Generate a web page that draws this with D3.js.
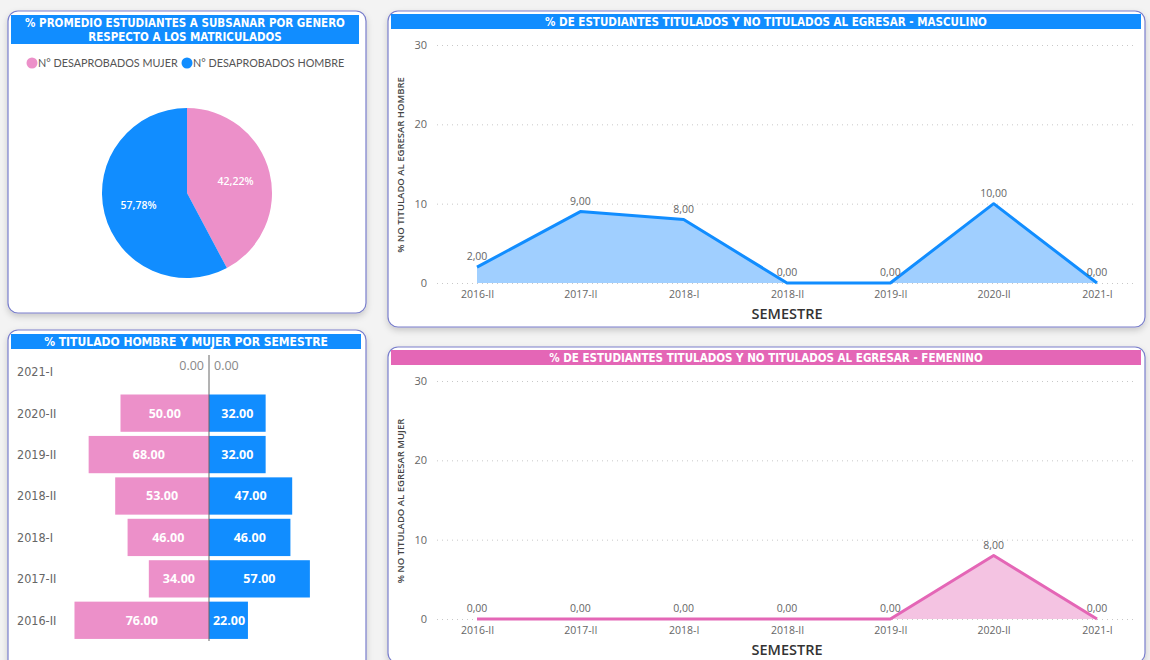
<!DOCTYPE html>
<html>
<head>
<meta charset="utf-8">
<script src="https://cdn.jsdelivr.net/npm/d3@7"></script>
<style>
  body { margin: 0; background: #f3f3f3; }
  svg { display: block; }
</style>
</head>
<body>
<svg id="dash" width="1150" height="660"></svg>
<script>
// ---- data ----
var pieLabels = ["N° DESAPROBADOS MUJER", "N° DESAPROBADOS HOMBRE"];
var pieValues = [42.22, 57.78];

var barSemestres = ["2021-I", "2020-II", "2019-II", "2018-II", "2018-I", "2017-II", "2016-II"];
var barMujer = [0, 50, 68, 53, 46, 34, 76];
var barHombre = [0, 32, 32, 47, 46, 57, 22];

var lineSemestres = ["2016-II", "2017-II", "2018-I", "2018-II", "2019-II", "2020-II", "2021-I"];
var noTitHombre = [2, 9, 8, 0, 0, 10, 0];
var noTitMujer = [0, 0, 0, 0, 0, 8, 0];
var yTicks = [0, 10, 20, 30];

var BLUE = "#118dff", PINK = "#ec90c9", PINKLINE = "#e466b6";
var titleFont = "'DejaVu Sans Condensed', 'DejaVu Sans', sans-serif";
var bodyFont = "'Open Sans', 'Noto Sans', sans-serif";

var svg = d3.select("#dash");
var defs = svg.append("defs");
var f = defs.append("filter").attr("id", "shadow").attr("x", "-5%").attr("y", "-5%").attr("width", "110%").attr("height", "115%");
f.append("feDropShadow").attr("dx", 0).attr("dy", 3).attr("stdDeviation", 3).attr("flood-color", "#000").attr("flood-opacity", 0.18);

function panel(x, y, w, h) {
    svg.append("rect").attr("x", x).attr("y", y).attr("width", w).attr("height", h)
        .attr("rx", 10).attr("fill", "#fff").attr("stroke", "#7a7fcc").attr("stroke-width", 1.2)
        .attr("filter", "url(#shadow)");
}
function titleBar(x, y, w, h, color, lines, size) {
    svg.append("rect").attr("x", x).attr("y", y).attr("width", w).attr("height", h).attr("fill", color);
    var t = svg.append("text").attr("x", x + w / 2).attr("text-anchor", "middle")
        .attr("fill", "#fff").style("font-family", titleFont).style("font-weight", "bold").style("font-size", (size || 11.5) + "px");
    lines.forEach(function (l, i) {
        t.append("tspan").attr("x", x + w / 2).attr("y", y + 11.5 + i * 14).text(l);
    });
}

// ---- panel 1: pie ----
panel(8, 11, 358, 302);
titleBar(11, 15, 348, 29, BLUE, ["% PROMEDIO ESTUDIANTES A SUBSANAR POR GENERO", "RESPECTO A LOS MATRICULADOS"]);

var legend = svg.append("g").style("font-family", "Lato, sans-serif").style("font-size", "10.8px");
var lx = [32, 187];
pieLabels.forEach(function (l, i) {
    legend.append("circle").attr("cx", lx[i]).attr("cy", 63).attr("r", 5.5).attr("fill", i == 0 ? PINK : BLUE);
    legend.append("text").attr("x", lx[i] + 6).attr("y", 67).attr("fill", "#555").text(l);
});

var pie = d3.pie().sort(null)(pieValues);
var arc = d3.arc().innerRadius(0).outerRadius(85);
var pg = svg.append("g").attr("transform", "translate(187,193)");
pg.selectAll("path").data(pie).enter().append("path")
    .attr("d", arc).attr("fill", function (d, i) { return i == 0 ? PINK : BLUE; });
var labelArc = d3.arc().innerRadius(50).outerRadius(50);
pg.selectAll("text").data(pie).enter().append("text")
    .attr("transform", function (d) { var c = labelArc.centroid(d); return "translate(" + c + ")"; })
    .attr("text-anchor", "middle").attr("dy", "0.35em")
    .attr("fill", "#fff").style("font-family", bodyFont).style("font-weight", "600").style("font-size", "10.5px")
    .text(function (d) { return d.data.toFixed(2).replace(".", ",") + "%"; });

// ---- panel 2: butterfly bars ----
panel(8, 330, 358, 345);
titleBar(11, 334, 350, 15, BLUE, ["% TITULADO HOMBRE Y MUJER POR SEMESTRE"], 12);

var yBand = d3.scaleBand().domain(barSemestres).range([351, 641]).paddingInner(0.1).paddingOuter(0.05);
var xBar = d3.scaleLinear().domain([0, 100]).range([0, 177]);
var cx = 209;
var bg = svg.append("g");
bg.selectAll(".bm").data(barSemestres).enter().append("rect")
    .attr("x", function (d, i) { return cx - xBar(barMujer[i]); })
    .attr("y", function (d) { return yBand(d); })
    .attr("width", function (d, i) { return xBar(barMujer[i]); })
    .attr("height", yBand.bandwidth()).attr("fill", PINK);
bg.selectAll(".bh").data(barSemestres).enter().append("rect")
    .attr("x", cx)
    .attr("y", function (d) { return yBand(d); })
    .attr("width", function (d, i) { return xBar(barHombre[i]); })
    .attr("height", yBand.bandwidth()).attr("fill", BLUE);
bg.append("line").attr("x1", cx).attr("x2", cx).attr("y1", 355).attr("y2", 641).attr("stroke", "#666").attr("stroke-width", 1);

var yAx = svg.append("g").attr("transform", "translate(17,0)")
    .call(d3.axisLeft(yBand).tickSize(0).tickPadding(0));
yAx.select(".domain").remove();
yAx.selectAll("text").attr("text-anchor", "start").attr("dy", "0.35em").attr("fill", "#666")
    .style("font-family", "'Liberation Sans Narrow', 'DejaVu Sans Condensed', sans-serif").style("font-size", "12.5px");

function midY(d) { return yBand(d) + yBand.bandwidth() / 2; }
bg.selectAll(".lm").data(barSemestres).enter().append("text")
    .attr("x", function (d, i) { return barMujer[i] > 0 ? cx - xBar(barMujer[i]) / 2 : cx - 5; })
    .attr("y", function (d, i) { return barMujer[i] > 0 ? midY(d) : midY(d) - 6; })
    .attr("dy", "0.35em")
    .attr("text-anchor", function (d, i) { return barMujer[i] > 0 ? "middle" : "end"; })
    .attr("fill", function (d, i) { return barMujer[i] > 0 ? "#fff" : "#888"; })
    .style("font-family", bodyFont).style("font-weight", function (d, i) { return barMujer[i] > 0 ? "bold" : "normal"; })
    .style("font-size", "12.5px")
    .text(function (d, i) { return barMujer[i].toFixed(2); });
bg.selectAll(".lh").data(barSemestres).enter().append("text")
    .attr("x", function (d, i) { return barHombre[i] > 0 ? Math.max(cx + xBar(barHombre[i]) / 2, cx + 20) : cx + 5; })
    .attr("y", function (d, i) { return barHombre[i] > 0 ? midY(d) : midY(d) - 6; })
    .attr("dy", "0.35em")
    .attr("text-anchor", function (d, i) { return barHombre[i] > 0 ? "middle" : "start"; })
    .attr("fill", function (d, i) { return barHombre[i] > 0 ? "#fff" : "#888"; })
    .style("font-family", bodyFont).style("font-weight", function (d, i) { return barHombre[i] > 0 ? "bold" : "normal"; })
    .style("font-size", "12.5px")
    .text(function (d, i) { return barHombre[i].toFixed(2); });

// ---- panels 3 & 4: area charts ----
function areaChart(top, color, lineColor, fillColor, title, yTitle, values) {
    panel(388, top, 757, 316);
    titleBar(391, top + 3, 750, 15, color, [title]);
    var x = d3.scalePoint().domain(lineSemestres).range([477, 1097]);
    var y = d3.scaleLinear().domain([0, 30]).range([top + 272, top + 34]);
    var g = svg.append("g");

    var ya = g.append("g").attr("transform", "translate(437,0)")
        .call(d3.axisLeft(y).tickValues(yTicks).tickSize(0).tickPadding(10));
    ya.select(".domain").remove();
    ya.selectAll(".tick line").attr("x1", 0).attr("x2", 700)
        .attr("stroke", "#c8c8c8").attr("stroke-dasharray", "1,4");
    ya.selectAll("text").attr("fill", "#666").style("font-family", bodyFont).style("font-size", "11px");

    var xa = g.append("g").attr("transform", "translate(0," + (top + 272) + ")")
        .call(d3.axisBottom(x).tickSize(0).tickPadding(8));
    xa.select(".domain").remove();
    xa.selectAll("text").attr("fill", "#666").style("font-family", bodyFont).style("font-size", "10.5px");

    g.append("text").attr("x", 787).attr("y", top + 308).attr("text-anchor", "middle")
        .attr("fill", "#333").style("font-family", bodyFont).style("font-weight", "600").style("font-size", "14.5px").text("SEMESTRE");
    g.append("text").attr("transform", "translate(404," + (top + 154) + ") rotate(-90)")
        .attr("text-anchor", "middle").attr("fill", "#444")
        .style("font-family", bodyFont).style("font-weight", "600").style("font-size", "9.5px").text(yTitle);

    var pts = lineSemestres.map(function (s, i) { return [s, values[i]]; });
    g.append("path").datum(pts).attr("fill", fillColor)
        .attr("d", d3.area().x(function (d) { return x(d[0]); }).y0(y(0)).y1(function (d) { return y(d[1]); }));
    g.append("path").datum(pts).attr("fill", "none").attr("stroke", lineColor).attr("stroke-width", 3)
        .attr("stroke-linejoin", "round")
        .attr("d", d3.line().x(function (d) { return x(d[0]); }).y(function (d) { return y(d[1]); }));
    g.selectAll(".dl").data(pts).enter().append("text")
        .attr("x", function (d) { return x(d[0]); })
        .attr("y", function (d) { return y(d[1]) - 7; })
        .attr("text-anchor", "middle").attr("fill", "#666")
        .style("font-family", bodyFont).style("font-size", "10.5px")
        .text(function (d) { return d[1].toFixed(2).replace(".", ","); });
}

areaChart(11, BLUE, BLUE, "#a0cfff", "% DE ESTUDIANTES TITULADOS Y NO TITULADOS AL EGRESAR - MASCULINO",
    "% NO TITULADO AL EGRESAR HOMBRE", noTitHombre);
areaChart(347, PINKLINE, PINKLINE, "#f4c3e2", "% DE ESTUDIANTES TITULADOS Y NO TITULADOS AL EGRESAR - FEMENINO",
    "% NO TITULADO AL EGRESAR MUJER", noTitMujer);
</script>
</body>
</html>
